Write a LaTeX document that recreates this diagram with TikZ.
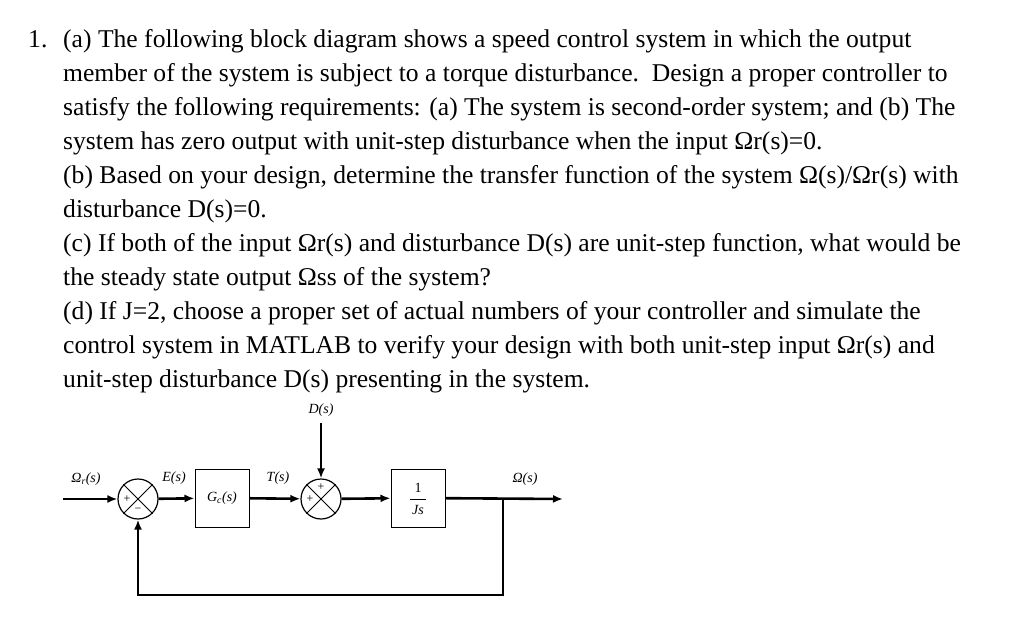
\documentclass[tikz,border=0pt]{standalone}
\usepackage{fontspec}
\setmainfont{Liberation Serif}
\usetikzlibrary{arrows.meta}
\begin{document}
\begin{tikzpicture}[x=1pt,y=-1pt,
  txt/.style={anchor=base west,inner sep=0,font=\fontsize{25.6}{28}\selectfont},
  lbl/.style={inner sep=0,font=\fontsize{14}{16}\selectfont\itshape},
  sumj/.style={draw,circle,line width=1.2pt,minimum size=40pt,inner sep=0},
  blk/.style={draw,line width=1pt,minimum width=54pt,minimum height=58pt,inner sep=0,font=\fontsize{14}{16}\selectfont\itshape},
  sig/.style={line width=2.6pt,-{Latex[length=10pt,width=8pt]}},
  pl/.style={inner sep=0,font=\fontsize{12}{14}\selectfont}]
\useasboundingbox (0,0) rectangle (1024,617);
\node[txt] (n1) at (28,48) {1.};
\foreach \i/\t in {1/{(a) The following block diagram shows a speed control system in which the output},
 2/{member of the system is subject to a torque disturbance.\ \ Design a proper controller to},
 3/{satisfy the following requirements: (a) The system is second-order system; and (b) The},
 4/{system has zero output with unit-step disturbance when the input Ωr(s)=0.},
 5/{(b) Based on your design, determine the transfer function of the system Ω(s)/Ωr(s) with},
 6/{disturbance D(s)=0.},
 7/{(c) If both of the input Ωr(s) and disturbance D(s) are unit-step function, what would be},
 8/{the steady state output Ωss of the system?},
 9/{(d) If J=2, choose a proper set of actual numbers of your controller and simulate the},
 10/{control system in MATLAB to verify your design with both unit-step input Ωr(s) and},
 11/{unit-step disturbance D(s) presenting in the system.}}
 \node[txt] (l\i) at (63,{48+33.9*(\i-1)}) {\t};
% diagram
\node[sumj] (s1) at (138,499) {};
\draw[line width=1pt] (s1.45) -- (s1.225) (s1.135) -- (s1.315);
\node[pl] (p1) at (127,499) {+};
\node[pl] (m1) at (138,510) {−};
\node[blk] (gc) at (222,498) {G\textsubscript{c}(s)};
\node[sumj] (s2) at (321,499) {};
\draw[line width=1pt] (s2.45) -- (s2.225) (s2.135) -- (s2.315);
\node[pl] (p2) at (321,487) {+};
\node[pl] (p3) at (310,499) {+};
\node[blk] (js) at (418,498) {};
\node[inner sep=0,font=\fontsize{14}{16}\selectfont] (one) at (418,488) {1};
\node[inner sep=0,font=\fontsize{14}{16}\selectfont\itshape] (jsd) at (418,510) {Js};
\draw[line width=0.7pt] (410,499) -- (426,499);
\coordinate (in) at (63,499);
\coordinate (br) at (503,499);
\coordinate (out) at (563,499);
\coordinate (dtop) at (321,423);
\coordinate (fb) at (138,595);
\draw[sig] (in) -- (s1);
\draw[sig] (s1) -- (gc);
\draw[sig] (gc) -- (s2);
\draw[sig] (s2) -- (js);
\draw[sig] (js) -- (out);
\draw[sig] (dtop) -- (s2);
\draw[sig] (br) |- (fb) -- (s1);
\node[lbl] (d) at (321,410) {D(s)};
\node[lbl] (wr) at (86,479) {Ω\textsubscript{r}(s)};
\node[lbl] (e) at (174,478) {E(s)};
\node[lbl] (t) at (278,478) {T(s)};
\node[lbl] (w) at (525,479) {Ω(s)};
\end{tikzpicture}
\end{document}
